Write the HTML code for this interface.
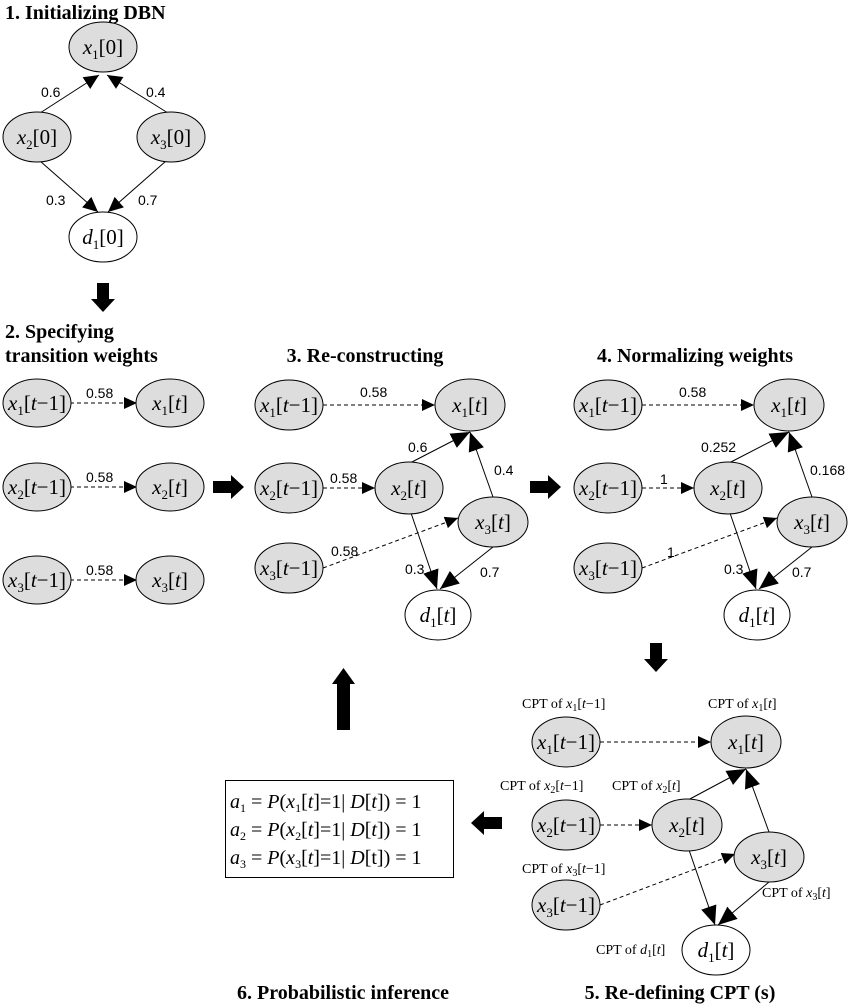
<!DOCTYPE html>
<html><head><meta charset="utf-8"><style>
html,body{margin:0;padding:0;background:#fff;}
svg{display:block;}
.i{font-style:italic;}
</style></head><body>
<svg width="851" height="1006" viewBox="0 0 851 1006" xmlns="http://www.w3.org/2000/svg">
<defs>
<marker id="s" markerUnits="userSpaceOnUse" markerWidth="14" markerHeight="12" refX="13" refY="6" orient="auto"><path d="M0,0L13,6L0,12z"/></marker>
<marker id="m" markerUnits="userSpaceOnUse" markerWidth="16" markerHeight="16" refX="15" refY="8" orient="auto"><path d="M0,1L15,8L0,15z"/></marker>
<marker id="L" markerUnits="userSpaceOnUse" markerWidth="20" markerHeight="18" refX="19" refY="9" orient="auto"><path d="M0,1L19,9L0,17z"/></marker>
</defs>
<g stroke="#000" stroke-width="1" fill="none">
<line x1="40" y1="113" x2="99" y2="75" marker-end="url(#m)"/>
<line x1="168" y1="113" x2="107" y2="75" marker-end="url(#m)"/>
<line x1="40" y1="161" x2="98" y2="212" marker-end="url(#m)"/>
<line x1="166" y1="161" x2="108" y2="212" marker-end="url(#m)"/>
<g stroke-dasharray="4,3">
<line x1="70" y1="403" x2="137" y2="403" marker-end="url(#s)"/>
<line x1="70" y1="487" x2="137" y2="487" marker-end="url(#s)"/>
<line x1="70" y1="580" x2="137" y2="580" marker-end="url(#s)"/>
</g>
<g stroke-dasharray="4,3">
<line x1="323" y1="405" x2="435" y2="405" marker-end="url(#s)"/>
<line x1="323" y1="488" x2="375" y2="488" marker-end="url(#s)"/>
<line x1="323" y1="568" x2="458" y2="518" marker-end="url(#s)"/>
</g>
<line x1="410" y1="463" x2="470" y2="432" marker-end="url(#L)"/>
<line x1="493" y1="497" x2="470" y2="432" marker-end="url(#L)"/>
<line x1="411" y1="513" x2="437" y2="589" marker-end="url(#L)"/>
<line x1="493" y1="547" x2="440" y2="589" marker-end="url(#L)"/>
<g transform="translate(319,0)">
<g stroke-dasharray="4,3">
<line x1="323" y1="405" x2="435" y2="405" marker-end="url(#s)"/>
<line x1="323" y1="488" x2="375" y2="488" marker-end="url(#s)"/>
<line x1="323" y1="568" x2="458" y2="518" marker-end="url(#s)"/>
</g>
<line x1="410" y1="463" x2="470" y2="432" marker-end="url(#L)"/>
<line x1="493" y1="497" x2="470" y2="432" marker-end="url(#L)"/>
<line x1="411" y1="513" x2="437" y2="589" marker-end="url(#L)"/>
<line x1="493" y1="547" x2="440" y2="589" marker-end="url(#L)"/>
</g>
<g stroke-dasharray="4,3">
<line x1="600" y1="742" x2="711" y2="742" marker-end="url(#s)"/>
<line x1="600" y1="825" x2="652" y2="825" marker-end="url(#s)"/>
<line x1="600" y1="905" x2="735" y2="854" marker-end="url(#s)"/>
</g>
<line x1="688" y1="800" x2="746" y2="769" marker-end="url(#L)"/>
<line x1="769" y1="832" x2="746" y2="769" marker-end="url(#L)"/>
<line x1="689" y1="850" x2="715" y2="925" marker-end="url(#L)"/>
<line x1="769" y1="882" x2="718" y2="925" marker-end="url(#L)"/>
</g>

<g stroke="#000" stroke-width="1">
<ellipse cx="103" cy="47" rx="34" ry="25" fill="#ddd"/>
<ellipse cx="37" cy="137" rx="34" ry="25" fill="#ddd"/>
<ellipse cx="171" cy="137" rx="34" ry="25" fill="#ddd"/>
<ellipse cx="103" cy="237" rx="34" ry="25" fill="#fff"/>
<ellipse cx="37" cy="403" rx="34" ry="24" fill="#ddd"/>
<ellipse cx="170" cy="403" rx="34" ry="24" fill="#ddd"/>
<ellipse cx="37" cy="487" rx="34" ry="24" fill="#ddd"/>
<ellipse cx="170" cy="487" rx="34" ry="24" fill="#ddd"/>
<ellipse cx="37" cy="580" rx="34" ry="24" fill="#ddd"/>
<ellipse cx="170" cy="580" rx="34" ry="24" fill="#ddd"/>
<ellipse cx="289" cy="405" rx="34" ry="25" fill="#ddd"/>
<ellipse cx="470" cy="405" rx="35" ry="26" fill="#ddd"/>
<ellipse cx="289" cy="488" rx="34" ry="25" fill="#ddd"/>
<ellipse cx="409" cy="488" rx="34" ry="26" fill="#ddd"/>
<ellipse cx="493" cy="522" rx="35" ry="25" fill="#ddd"/>
<ellipse cx="289" cy="568" rx="34" ry="25" fill="#ddd"/>
<ellipse cx="438" cy="615" rx="33" ry="25" fill="#fff"/>
<ellipse cx="608" cy="405" rx="34" ry="25" fill="#ddd"/>
<ellipse cx="789" cy="405" rx="35" ry="26" fill="#ddd"/>
<ellipse cx="608" cy="488" rx="34" ry="25" fill="#ddd"/>
<ellipse cx="728" cy="488" rx="34" ry="26" fill="#ddd"/>
<ellipse cx="812" cy="522" rx="35" ry="25" fill="#ddd"/>
<ellipse cx="608" cy="568" rx="34" ry="25" fill="#ddd"/>
<ellipse cx="757" cy="615" rx="33" ry="25" fill="#fff"/>
<ellipse cx="566" cy="742" rx="34" ry="25" fill="#ddd"/>
<ellipse cx="746" cy="742" rx="35" ry="26" fill="#ddd"/>
<ellipse cx="566" cy="825" rx="34" ry="25" fill="#ddd"/>
<ellipse cx="687" cy="825" rx="35" ry="26" fill="#ddd"/>
<ellipse cx="769" cy="857" rx="35" ry="25" fill="#ddd"/>
<ellipse cx="566" cy="905" rx="34" ry="25" fill="#ddd"/>
<ellipse cx="716" cy="950" rx="34" ry="25" fill="#fff"/>
</g>

<g font-family="'Liberation Serif', serif" font-size="21" text-anchor="middle">
<text x="103" y="54"><tspan class="i">x</tspan><tspan font-size="13" dy="5">1</tspan><tspan dy="-5">[0]</tspan></text>
<text x="37" y="144"><tspan class="i">x</tspan><tspan font-size="13" dy="5">2</tspan><tspan dy="-5">[0]</tspan></text>
<text x="171" y="144"><tspan class="i">x</tspan><tspan font-size="13" dy="5">3</tspan><tspan dy="-5">[0]</tspan></text>
<text x="103" y="244"><tspan class="i">d</tspan><tspan font-size="13" dy="5">1</tspan><tspan dy="-5">[0]</tspan></text>
<text x="37" y="410"><tspan class="i">x</tspan><tspan font-size="13" dy="5">1</tspan><tspan dy="-5">[</tspan><tspan class="i">t</tspan>−1]</text>
<text x="170" y="410"><tspan class="i">x</tspan><tspan font-size="13" dy="5">1</tspan><tspan dy="-5">[</tspan><tspan class="i">t</tspan>]</text>
<text x="37" y="494"><tspan class="i">x</tspan><tspan font-size="13" dy="5">2</tspan><tspan dy="-5">[</tspan><tspan class="i">t</tspan>−1]</text>
<text x="170" y="494"><tspan class="i">x</tspan><tspan font-size="13" dy="5">2</tspan><tspan dy="-5">[</tspan><tspan class="i">t</tspan>]</text>
<text x="37" y="587"><tspan class="i">x</tspan><tspan font-size="13" dy="5">3</tspan><tspan dy="-5">[</tspan><tspan class="i">t</tspan>−1]</text>
<text x="170" y="587"><tspan class="i">x</tspan><tspan font-size="13" dy="5">3</tspan><tspan dy="-5">[</tspan><tspan class="i">t</tspan>]</text>
<text x="289" y="412"><tspan class="i">x</tspan><tspan font-size="13" dy="5">1</tspan><tspan dy="-5">[</tspan><tspan class="i">t</tspan>−1]</text>
<text x="470" y="412"><tspan class="i">x</tspan><tspan font-size="13" dy="5">1</tspan><tspan dy="-5">[</tspan><tspan class="i">t</tspan>]</text>
<text x="289" y="495"><tspan class="i">x</tspan><tspan font-size="13" dy="5">2</tspan><tspan dy="-5">[</tspan><tspan class="i">t</tspan>−1]</text>
<text x="409" y="495"><tspan class="i">x</tspan><tspan font-size="13" dy="5">2</tspan><tspan dy="-5">[</tspan><tspan class="i">t</tspan>]</text>
<text x="493" y="529"><tspan class="i">x</tspan><tspan font-size="13" dy="5">3</tspan><tspan dy="-5">[</tspan><tspan class="i">t</tspan>]</text>
<text x="289" y="575"><tspan class="i">x</tspan><tspan font-size="13" dy="5">3</tspan><tspan dy="-5">[</tspan><tspan class="i">t</tspan>−1]</text>
<text x="438" y="622"><tspan class="i">d</tspan><tspan font-size="13" dy="5">1</tspan><tspan dy="-5">[</tspan><tspan class="i">t</tspan>]</text>
<text x="608" y="412"><tspan class="i">x</tspan><tspan font-size="13" dy="5">1</tspan><tspan dy="-5">[</tspan><tspan class="i">t</tspan>−1]</text>
<text x="789" y="412"><tspan class="i">x</tspan><tspan font-size="13" dy="5">1</tspan><tspan dy="-5">[</tspan><tspan class="i">t</tspan>]</text>
<text x="608" y="495"><tspan class="i">x</tspan><tspan font-size="13" dy="5">2</tspan><tspan dy="-5">[</tspan><tspan class="i">t</tspan>−1]</text>
<text x="728" y="495"><tspan class="i">x</tspan><tspan font-size="13" dy="5">2</tspan><tspan dy="-5">[</tspan><tspan class="i">t</tspan>]</text>
<text x="812" y="529"><tspan class="i">x</tspan><tspan font-size="13" dy="5">3</tspan><tspan dy="-5">[</tspan><tspan class="i">t</tspan>]</text>
<text x="608" y="575"><tspan class="i">x</tspan><tspan font-size="13" dy="5">3</tspan><tspan dy="-5">[</tspan><tspan class="i">t</tspan>−1]</text>
<text x="757" y="622"><tspan class="i">d</tspan><tspan font-size="13" dy="5">1</tspan><tspan dy="-5">[</tspan><tspan class="i">t</tspan>]</text>
<text x="566" y="749"><tspan class="i">x</tspan><tspan font-size="13" dy="5">1</tspan><tspan dy="-5">[</tspan><tspan class="i">t</tspan>−1]</text>
<text x="746" y="749"><tspan class="i">x</tspan><tspan font-size="13" dy="5">1</tspan><tspan dy="-5">[</tspan><tspan class="i">t</tspan>]</text>
<text x="566" y="832"><tspan class="i">x</tspan><tspan font-size="13" dy="5">2</tspan><tspan dy="-5">[</tspan><tspan class="i">t</tspan>−1]</text>
<text x="687" y="832"><tspan class="i">x</tspan><tspan font-size="13" dy="5">2</tspan><tspan dy="-5">[</tspan><tspan class="i">t</tspan>]</text>
<text x="769" y="864"><tspan class="i">x</tspan><tspan font-size="13" dy="5">3</tspan><tspan dy="-5">[</tspan><tspan class="i">t</tspan>]</text>
<text x="566" y="912"><tspan class="i">x</tspan><tspan font-size="13" dy="5">3</tspan><tspan dy="-5">[</tspan><tspan class="i">t</tspan>−1]</text>
<text x="716" y="957"><tspan class="i">d</tspan><tspan font-size="13" dy="5">1</tspan><tspan dy="-5">[</tspan><tspan class="i">t</tspan>]</text>
</g>

<g font-family="'Liberation Sans', sans-serif" font-size="14">
<text x="41" y="97">0.6</text><text x="146" y="97">0.4</text>
<text x="46" y="205">0.3</text><text x="138" y="205">0.7</text>
<text x="86" y="398">0.58</text><text x="86" y="482">0.58</text><text x="86" y="575">0.58</text>
<text x="360" y="397">0.58</text><text x="330" y="483">0.58</text><text x="331" y="556">0.58</text>
<text x="408" y="452">0.6</text><text x="494" y="475">0.4</text>
<text x="405" y="574">0.3</text><text x="480" y="577">0.7</text>
<text x="679" y="397">0.58</text><text x="660" y="484">1</text><text x="667" y="557">1</text>
<text x="701" y="452">0.252</text><text x="810" y="475">0.168</text>
<text x="724" y="574">0.3</text><text x="792" y="577">0.7</text>
</g>

<g font-family="'Liberation Serif', serif" font-size="14">
<text x="522" y="708">CPT of <tspan class="i">x</tspan><tspan font-size="10" dy="3">1</tspan><tspan dy="-3">[</tspan><tspan class="i">t</tspan>−1]</text>
<text x="708" y="708">CPT of <tspan class="i">x</tspan><tspan font-size="10" dy="3">1</tspan><tspan dy="-3">[</tspan><tspan class="i">t</tspan>]</text>
<text x="500" y="790">CPT of <tspan class="i">x</tspan><tspan font-size="10" dy="3">2</tspan><tspan dy="-3">[</tspan><tspan class="i">t</tspan>−1]</text>
<text x="612" y="790">CPT of <tspan class="i">x</tspan><tspan font-size="10" dy="3">2</tspan><tspan dy="-3">[</tspan><tspan class="i">t</tspan>]</text>
<text x="522" y="873">CPT of <tspan class="i">x</tspan><tspan font-size="10" dy="3">3</tspan><tspan dy="-3">[</tspan><tspan class="i">t</tspan>−1]</text>
<text x="762" y="897">CPT of <tspan class="i">x</tspan><tspan font-size="10" dy="3">3</tspan><tspan dy="-3">[</tspan><tspan class="i">t</tspan>]</text>
<text x="596" y="954">CPT of <tspan class="i">d</tspan><tspan font-size="10" dy="3">1</tspan><tspan dy="-3">[</tspan><tspan class="i">t</tspan>]</text>
</g>

<g font-family="'Liberation Serif', serif" font-size="20" font-weight="bold">
<text x="5" y="19">1. Initializing DBN</text>
<text x="5" y="338">2. Specifying</text>
<text x="5" y="362">transition weights</text>
<text x="365" y="362" text-anchor="middle">3. Re-constructing</text>
<text x="695" y="362" text-anchor="middle">4. Normalizing weights</text>
<text x="343" y="999" text-anchor="middle">6. Probabilistic inference</text>
<text x="680" y="999" text-anchor="middle">5. Re-defining CPT (s)</text>
</g>

<g fill="#000">
<path d="M97,283H109V299H115L103,312L91,299H97Z"/>
<path d="M213,481H231V475L244,487L231,499V493H213Z"/>
<path d="M530,481H548V475L561,487L548,499V493H530Z"/>
<path d="M650,643H662V659H668L656,672L644,659H650Z"/>
<path d="M502,817H484V811L471,823L484,835V829H502Z"/>
<path d="M337,730H350V684H355L343.5,668L332,684H337Z"/>
</g>

<rect x="225.5" y="780.5" width="228" height="97" fill="#fff" stroke="#000"/>
<g font-family="'Liberation Serif', serif" font-size="20">
<text x="230" y="808"><tspan class="i">a</tspan><tspan font-size="12" dy="4">1</tspan><tspan dy="-4"> = </tspan><tspan class="i">P</tspan>(<tspan class="i">x</tspan><tspan font-size="12" dy="4">1</tspan><tspan dy="-4">[</tspan><tspan class="i">t</tspan>]=1| <tspan class="i">D</tspan>[<tspan class="i">t</tspan>]) = 1</text>
<text x="230" y="836"><tspan class="i">a</tspan><tspan font-size="12" dy="4">2</tspan><tspan dy="-4"> = </tspan><tspan class="i">P</tspan>(<tspan class="i">x</tspan><tspan font-size="12" dy="4">2</tspan><tspan dy="-4">[</tspan><tspan class="i">t</tspan>]=1| <tspan class="i">D</tspan>[<tspan class="i">t</tspan>]) = 1</text>
<text x="230" y="864"><tspan class="i">a</tspan><tspan font-size="12" dy="4">3</tspan><tspan dy="-4"> = </tspan><tspan class="i">P</tspan>(<tspan class="i">x</tspan><tspan font-size="12" dy="4">3</tspan><tspan dy="-4">[</tspan><tspan class="i">t</tspan>]=1| <tspan class="i">D</tspan>[t]) = 1</text>
</g>
</svg>
</body></html>
